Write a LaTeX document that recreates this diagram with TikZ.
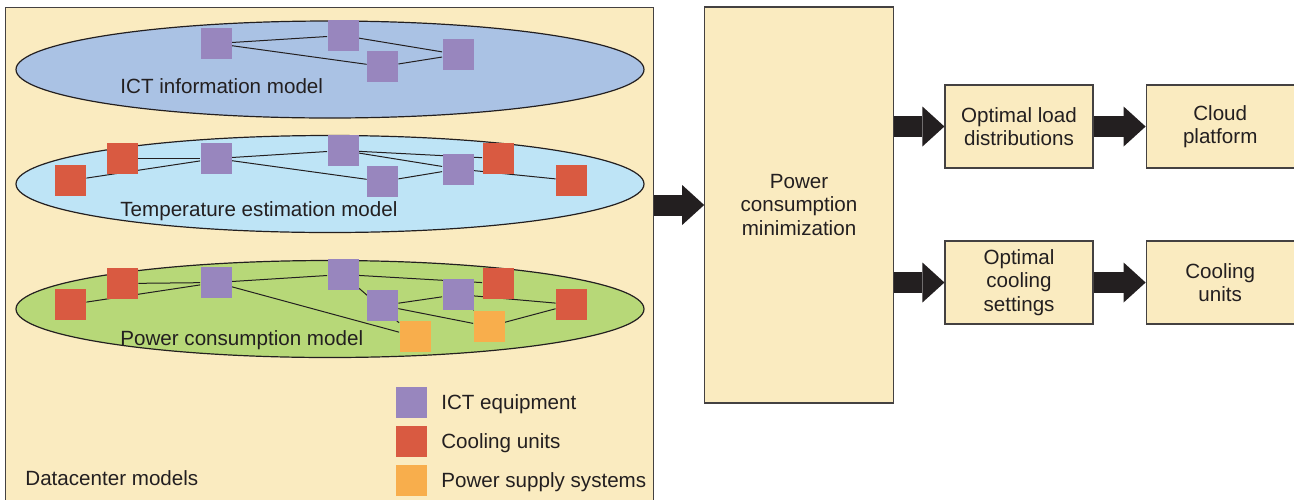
\documentclass[tikz,border=0pt]{standalone}
\usepackage{fontspec}
\setmainfont{Liberation Sans}
\usetikzlibrary{positioning,shapes.geometric,arrows.meta}

\definecolor{paper}{HTML}{FAEBC0}
\definecolor{ictblue}{HTML}{AAC2E4}
\definecolor{tempblue}{HTML}{BEE4F6}
\definecolor{powgreen}{HTML}{B7D878}
\definecolor{ictcol}{HTML}{9886BE}
\definecolor{coolcol}{HTML}{D95A41}
\definecolor{supcol}{HTML}{F8AE4C}
\definecolor{ink}{HTML}{231F20}

\pgfdeclarelayer{back}
\pgfdeclarelayer{links}
\pgfsetlayers{back,links,main}

\begin{document}
\begin{tikzpicture}[x=0.5pt, y=-0.5pt, font=\fontsize{10.3}{11.7}\selectfont, text=ink,
                    modelnode/.style={ellipse, draw=ink, line width=0.6pt, minimum width=314pt, minimum height=48.5pt, inner sep=0pt},
                    ictnode/.style={rectangle, fill=ictcol, minimum width=15.5pt, minimum height=15.5pt, inner sep=0pt},
                    coolnode/.style={ictnode, fill=coolcol},
                    supplynode/.style={ictnode, fill=supcol},
                    stepbox/.style={rectangle, draw=ink!85, fill=paper, line width=0.6pt, align=center, minimum width=74pt, minimum height=41.5pt, inner sep=0pt},
                    legendtext/.style={inner sep=0pt, text height=7.4pt, text depth=0pt},
                    link/.style={draw=ink, line width=0.5pt},
                    bigarrow/.style={draw=ink, line width=10.5pt, -{Triangle[length=11pt, width=20pt, line width=0pt]}},]
    \useasboundingbox (0,0) rectangle (1294,499);

    % datacenter models
    \begin{pgfonlayer}{back}
    \node[stepbox, minimum width=324pt, minimum height=252pt, anchor=north west] (dcm) at (5,7) {};
    \node[modelnode, fill=ictblue]  (ictm)  at (330,69.5) {};
    \node[modelnode, fill=tempblue] (tempm) at (330,184)  {};
    \node[modelnode, fill=powgreen] (powm)  at (330,309)  {};
    \end{pgfonlayer}
    \node[anchor=base west, inner sep=0pt] at (120,93)  {ICT information model};
    \node[anchor=base west, inner sep=0pt] at (120,216) {Temperature estimation model};
    \node[anchor=base west, inner sep=0pt] at (120,345) {Power consumption model};
    \node[anchor=base west, inner sep=0pt] at (25,485)  {Datacenter models};

    % ICT information model
    \node[ictnode] (ia) at (216,43.5)   {};
    \node[ictnode] (ib) at (343,35.5)   {};
    \node[ictnode] (ic) at (382.5,66.5) {};
    \node[ictnode] (id) at (458,54.5)   {};

    % temperature estimation model
    \node[coolnode] (t1) at (70.5,180.5)  {};
    \node[coolnode] (t2) at (122.5,158.5) {};
    \node[ictnode]  (t3) at (216,158.5)   {};
    \node[ictnode]  (t4) at (343,150.5)   {};
    \node[ictnode]  (t5) at (382.5,181.5) {};
    \node[ictnode]  (t6) at (458,169)     {};
    \node[coolnode] (t7) at (498,158.5)   {};
    \node[coolnode] (t8) at (571.5,180.5) {};

    % power consumption model
    \node[coolnode]   (p1)  at (70.5,304.5)  {};
    \node[coolnode]   (p2)  at (122.5,283.5) {};
    \node[ictnode]    (p3)  at (216,282.5)   {};
    \node[ictnode]    (p4)  at (343,274.5)   {};
    \node[ictnode]    (p5)  at (382.5,305.5) {};
    \node[ictnode]    (p6)  at (458,294.5)   {};
    \node[coolnode]   (p7)  at (498,283.5)   {};
    \node[coolnode]   (p8)  at (571.5,304.5) {};
    \node[supplynode] (p9)  at (415,336.5)   {};
    \node[supplynode] (p10) at (489,326.5)   {};

    % lines
    \begin{pgfonlayer}{links}
    \draw[link] (ia) -- (ib);
    \draw[link] (ia) -- (ic);
    \draw[link] (ib) -- (id);
    \draw[link] (ic) -- (id);
    \draw[link] (t1) -- (t3);
    \draw[link] (t2) -- (t3);
    \draw[link] (t3) -- (t4);
    \draw[link] (t3) -- (t5);
    \draw[link] (t4) -- (t6);
    \draw[link] (t5) -- (t6);
    \draw[link] (t4) -- (t7);
    \draw[link] (t6) -- (t8);
    \draw[link] (p1) -- (p3);
    \draw[link] (p2) -- (p3);
    \draw[link] (p3) -- (p4);
    \draw[link] (p3) -- (p9);
    \draw[link] (p4) -- (p9);
    \draw[link] (p4) -- (p7);
    \draw[link] (p5) -- (p6);
    \draw[link] (p5) -- (p10);
    \draw[link] (p6) -- (p10);
    \draw[link] (p6) -- (p8);
    \draw[link] (p10) -- (p8);
    \end{pgfonlayer}

    % legend
    \node[ictnode]    (lg1) at (411,402.5)       {};
    \node[coolnode]   (lg2) [below=3.5pt of lg1] {};
    \node[supplynode] (lg3) [below=3.5pt of lg2] {};
    \node[legendtext] [right=7pt of lg1] {ICT equipment};
    \node[legendtext] [right=7pt of lg2] {Cooling units};
    \node[legendtext] [right=7pt of lg3] {Power supply systems};

    % optimisation chain
    \node[stepbox, minimum width=94.25pt, minimum height=198pt] (pcm) at (799,205) {Power\\consumption\\minimization};
    \node[stepbox] (load)  at (1019,126.5)          {Optimal load\\distributions};
    \node[stepbox] (cloud) [right=26pt of load]     {Cloud\\platform};
    \node[stepbox] (cset)  at (1019,282.5)          {Optimal\\cooling\\settings};
    \node[stepbox] (cunit) [right=26pt of cset]     {Cooling\\units};

    % arrows
    \draw[bigarrow] (dcm.east |- pcm) -- (pcm.west);
    \draw[bigarrow] (pcm.east |- load) -- (load.west);
    \draw[bigarrow] (pcm.east |- cset) -- (cset.west);
    \draw[bigarrow] (load) -- (cloud);
    \draw[bigarrow] (cset) -- (cunit);
\end{tikzpicture}
\end{document}
